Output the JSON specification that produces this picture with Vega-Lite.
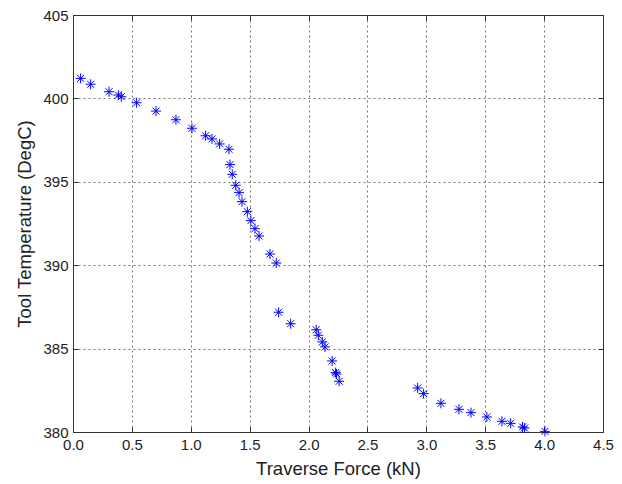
{
  "$schema": "https://vega.github.io/schema/vega-lite/v6.json",
  "width": 530,
  "height": 417,
  "autosize": "none",
  "padding": {"left": 73, "top": 15, "right": 19, "bottom": 52},
  "background": "white",
  "config": {
    "view": {"stroke": "#333333", "strokeWidth": 1},
    "axis": {
      "labelFont": "Liberation Sans",
      "titleFont": "Liberation Sans",
      "labelFontSize": 15,
      "titleFontSize": 18.5,
      "titleFontWeight": "normal",
      "labelColor": "#222222",
      "titleColor": "#222222",
      "domainColor": "#333333",
      "tickColor": "#333333",
      "tickSize": -5,
      "gridColor": "#666666",
      "gridDash": [2, 3],
      "gridOpacity": 0.9,
      "gridWidth": 1
    }
  },
  "data": {
    "values": [
      {"force": 0.065, "temp": 401.2},
      {"force": 0.15, "temp": 400.85},
      {"force": 0.306, "temp": 400.4},
      {"force": 0.385, "temp": 400.2},
      {"force": 0.41, "temp": 400.1},
      {"force": 0.54, "temp": 399.74},
      {"force": 0.705, "temp": 399.24},
      {"force": 0.874, "temp": 398.72},
      {"force": 1.01, "temp": 398.21},
      {"force": 1.126, "temp": 397.76},
      {"force": 1.18, "temp": 397.57},
      {"force": 1.245, "temp": 397.27},
      {"force": 1.324, "temp": 396.95},
      {"force": 1.333, "temp": 396.03},
      {"force": 1.352, "temp": 395.45},
      {"force": 1.382, "temp": 394.79},
      {"force": 1.41, "temp": 394.35},
      {"force": 1.435, "temp": 393.81},
      {"force": 1.48, "temp": 393.21},
      {"force": 1.51, "temp": 392.67},
      {"force": 1.545, "temp": 392.19},
      {"force": 1.58, "temp": 391.75},
      {"force": 1.672, "temp": 390.67},
      {"force": 1.726, "temp": 390.13},
      {"force": 1.746, "temp": 387.18},
      {"force": 1.848, "temp": 386.49},
      {"force": 2.065, "temp": 386.13},
      {"force": 2.083, "temp": 385.8},
      {"force": 2.117, "temp": 385.4},
      {"force": 2.14, "temp": 385.1},
      {"force": 2.2, "temp": 384.26},
      {"force": 2.23, "temp": 383.56},
      {"force": 2.238, "temp": 383.48},
      {"force": 2.26, "temp": 383.04},
      {"force": 2.926, "temp": 382.64},
      {"force": 2.977, "temp": 382.3},
      {"force": 3.124, "temp": 381.72},
      {"force": 3.277, "temp": 381.36},
      {"force": 3.379, "temp": 381.16},
      {"force": 3.514, "temp": 380.9},
      {"force": 3.642, "temp": 380.64},
      {"force": 3.716, "temp": 380.52},
      {"force": 3.817, "temp": 380.3},
      {"force": 3.834, "temp": 380.24},
      {"force": 4.007, "temp": 380.04}
    ]
  },
  "layer": [
    {
      "mark": {
        "type": "point",
        "shape": "M-1,0L1,0M0,-1L0,1M-0.7,-0.7L0.7,0.7M-0.7,0.7L0.7,-0.7",
        "filled": false,
        "stroke": "#0000ff",
        "strokeWidth": 1,
        "size": 100,
        "opacity": 1,
        "clip": false
      },
      "encoding": {
        "x": {
          "field": "force",
          "type": "quantitative",
          "title": "Traverse Force (kN)",
          "scale": {"domain": [0, 4.5], "nice": false, "zero": false},
          "axis": {"values": [0, 0.5, 1, 1.5, 2, 2.5, 3, 3.5, 4, 4.5], "labelPadding": 10, "titlePadding": 7, "labelFlush": false}
        },
        "y": {
          "field": "temp",
          "type": "quantitative",
          "title": "Tool Temperature (DegC)",
          "scale": {"domain": [380, 405], "nice": false, "zero": false},
          "axis": {"values": [380, 385, 390, 395, 400, 405], "labelPadding": 10, "titlePadding": 8, "labelFlush": false}
        }
      }
    },
    {
      "mark": {"type": "point", "opacity": 0},
      "encoding": {
        "x": {
          "field": "force",
          "type": "quantitative",
          "axis": {"orient": "top", "values": [0, 0.5, 1, 1.5, 2, 2.5, 3, 3.5, 4, 4.5], "labels": false, "title": null, "grid": false}
        },
        "y": {
          "field": "temp",
          "type": "quantitative",
          "axis": {"orient": "right", "values": [380, 385, 390, 395, 400, 405], "labels": false, "title": null, "grid": false}
        }
      }
    }
  ],
  "resolve": {"axis": {"x": "independent", "y": "independent"}}
}
